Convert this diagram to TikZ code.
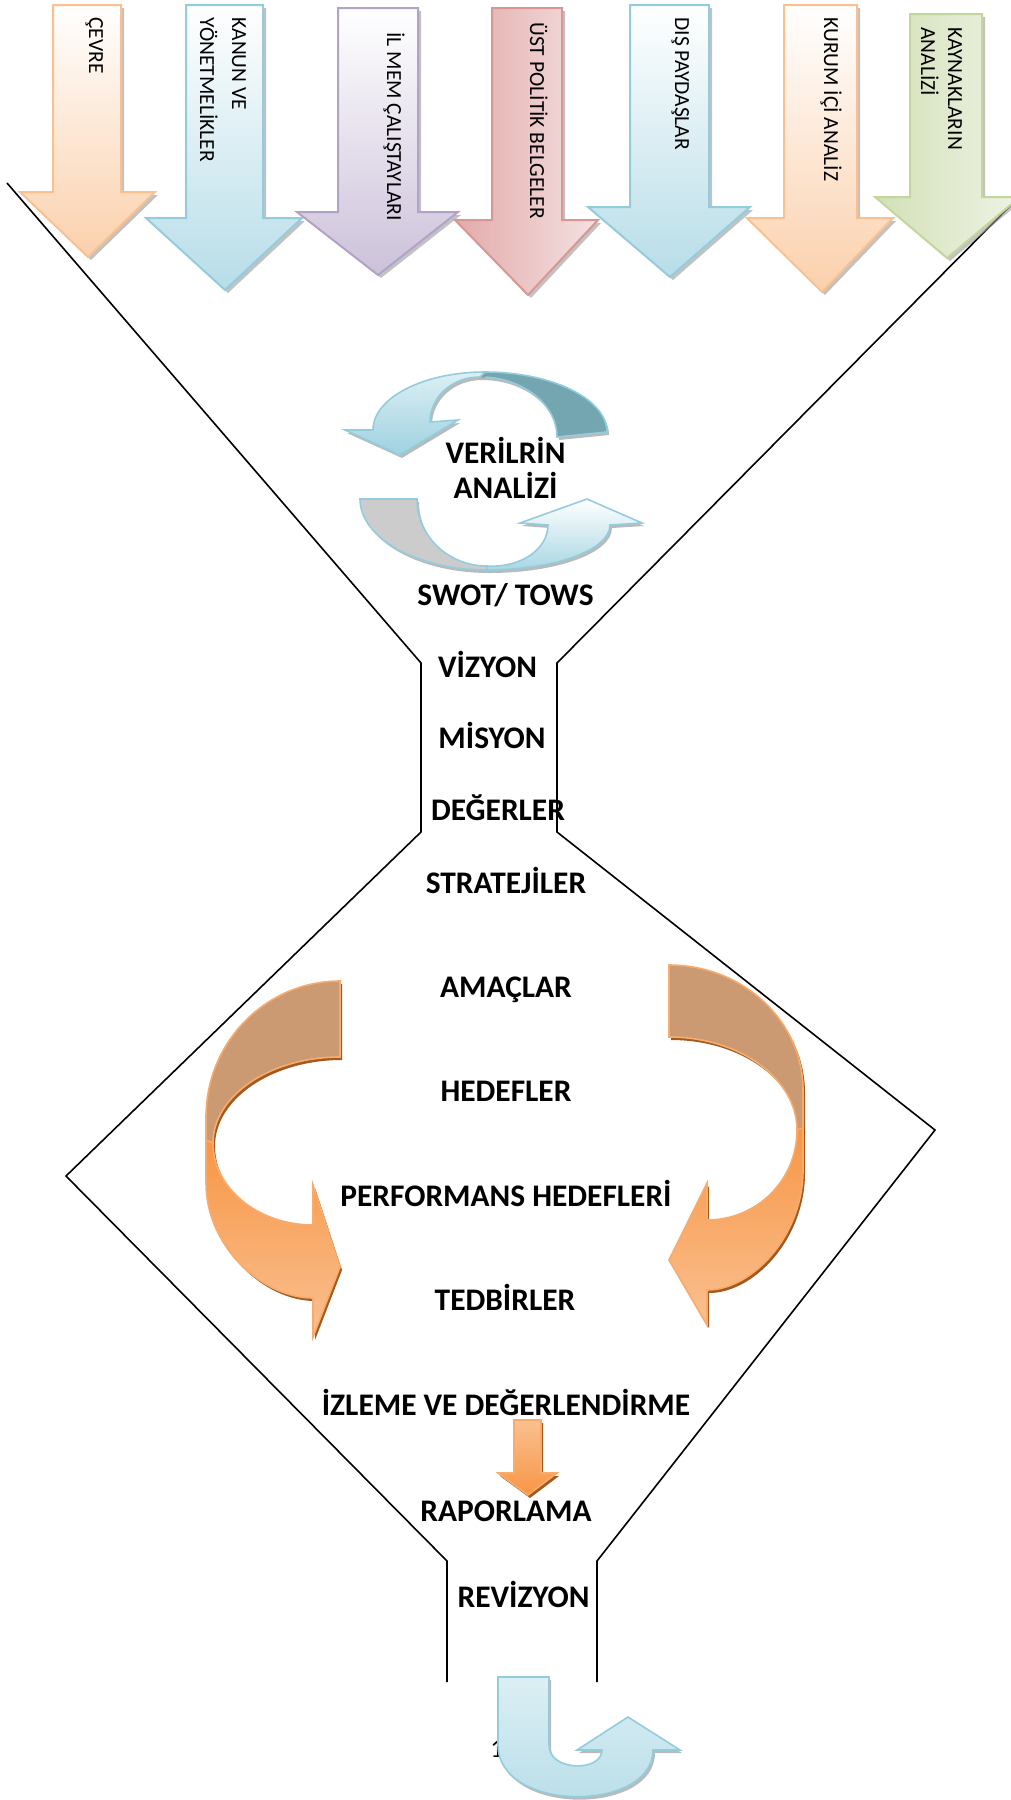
\documentclass[tikz,border=0pt]{standalone}
\usepackage{fontspec}
\setmainfont{Carlito}
\usetikzlibrary{shadows}
\definecolor{peach}{HTML}{FBD0AC}
\definecolor{peachline}{HTML}{FAC090}
\definecolor{sky}{HTML}{B7DDE8}
\definecolor{skyline}{HTML}{93CDDD}
\definecolor{lilac}{HTML}{CCC1DA}
\definecolor{lilacline}{HTML}{B3A2C7}
\definecolor{rose}{HTML}{E2ABAA}
\definecolor{roselight}{HTML}{F4E1E1}
\definecolor{roseline}{HTML}{D99694}
\definecolor{leaf}{HTML}{D3E0B8}
\definecolor{leaflight}{HTML}{EEF3E4}
\definecolor{leafline}{HTML}{C3D69B}
\definecolor{cyclelight}{HTML}{DCEFF4}
\definecolor{cycledark}{HTML}{74A6B2}
\definecolor{ribbonback}{HTML}{CB9A73}
\definecolor{ribbonfront}{HTML}{F79646}
\definecolor{ribbonpale}{HTML}{FAC090}
\definecolor{ribbonshadow}{HTML}{984807}
\tikzstyle{funnel}=[draw=black,line width=0.8pt]
\tikzstyle{inarrow}=[line width=1pt,line join=miter,drop shadow={shadow xshift=1.5pt,shadow yshift=-1.5pt,fill=black!40,opacity=.6}]
\tikzstyle{peacharrow}=[inarrow,top color=white,bottom color=peach,draw=peachline]
\tikzstyle{skyarrow}=[inarrow,top color=white,bottom color=sky,draw=skyline]
\tikzstyle{lilacarrow}=[inarrow,top color=white,bottom color=lilac,draw=lilacline]
\tikzstyle{rosearrow}=[inarrow,left color=rose,right color=roselight,draw=roseline]
\tikzstyle{leafarrow}=[inarrow,left color=leaf,right color=leaflight,draw=leafline]
\tikzstyle{cycle}=[line width=0.8pt,draw=skyline,drop shadow={shadow xshift=1pt,shadow yshift=-1.5pt,fill=black!45,opacity=.6}]
\tikzstyle{ribbon}=[line width=0.8pt,draw=ribbonfront!80!white,drop shadow={shadow xshift=1pt,shadow yshift=-1.5pt,fill=ribbonshadow,opacity=.9}]
\tikzstyle{arrowlabel}=[rotate=-90,anchor=base west,inner sep=0pt,font=\fontsize{10.75}{13}\selectfont]
\tikzstyle{stagelabel}=[anchor=base,inner sep=0pt,font=\fontsize{15.7}{18}\selectfont\bfseries]

\begin{document}
\begin{tikzpicture}[x=0.5pt,y=-0.5pt]
    \useasboundingbox (0,0) rectangle (1011,1800);
    % First we draw the funnel
    \draw[funnel] (7,183) -- (421,663) -- (421,832) -- (66,1176) -- (447,1561) -- (447,1682);
    \draw[funnel] (1013,203) -- (557,663) -- (557,832) -- (935,1130) -- (597,1561) -- (597,1682);
    % Input arrows at the top
    \foreach \sl/\sr/\st/\hy/\hl/\hr/\tx/\ty/\sty in {53/121/5/192/20/155/88/257/peacharrow,
            186/263/5/218/146/302/225/290/skyarrow, 338/418/8/212/297/458/378/275/lilacarrow,
            492/562/8/220/455/598/528/295/rosearrow, 630/709/5/207/588/750/670/277/skyarrow,
            784/857/5/218/747/893/822/292/peacharrow, 910/982/14/197/875/1020/947/258/leafarrow}
        \draw[\sty] (\sl,\st) -- (\sr,\st) -- (\sr,\hy) -- (\hr,\hy) -- (\tx,\ty) -- (\hl,\hy) -- (\sl,\hy) -- cycle;
    \foreach \pos/\name/\txt in {{(89,17)/cevre/ÇEVRE}, {(232,17)/kanun/KANUN VE},
            {(200,17)/yonetmelik/YÖNETMELİKLER}, {(387,32)/ilmem/İL MEM ÇALIŞTAYLARI},
            {(530,22)/ustpolitik/ÜST POLİTİK BELGELER}, {(675,17)/dispaydas/DIŞ PAYDAŞLAR},
            {(824,17)/kurumici/KURUM İÇİ ANALİZ}, {(948,27)/kaynak/KAYNAKLARIN},
            {(921,27)/kaynakanaliz/ANALİZİ}}
        \node[arrowlabel] (\name) at \pos {\txt};
    % Cycle arrows round the data analysis
    \draw[cycle,fill=cycledark] (485,372) .. controls (552,372) and (607,399) .. (607,432)
        -- (557,437) .. controls (557,404) and (522,377) .. (480,377) -- cycle;
    \draw[cycle,top color=cyclelight,bottom color=skyline!90] (373,430) .. controls (373,398) and (423,372) .. (485,372)
        -- (480,377) .. controls (452,377) and (430,397) .. (430,422) -- (458,420) -- (400,455) -- (345,430) -- cycle;
    \draw[cycle,fill=black!20] (360,499) -- (417,499) .. controls (417,536) and (448,566) .. (487,566)
        -- (487,570) .. controls (417,570) and (360,538) .. (360,499) -- cycle;
    \draw[cycle,top color=white,bottom color=skyline!80] (487,570) .. controls (555,570) and (610,550) .. (610,525)
        -- (642,523) -- (587,499) -- (520,523) -- (548,525) .. controls (548,549) and (521,568) .. (487,566) -- cycle;
    % Orange ribbons round the goals
    \draw[ribbon,fill=ribbonback] (340,981) .. controls (266,981) and (206,1042) .. (206,1117)
        -- (206,1143) -- (213,1143) .. controls (213,1096) and (270,1057) .. (340,1057) -- cycle;
    \draw[ribbon,top color=ribbonfront,bottom color=ribbonpale] (206,1140) -- (206,1183)
        .. controls (206,1246) and (262,1298) .. (313,1298) -- (313,1337) -- (340,1267) -- (313,1185)
        -- (313,1225) .. controls (258,1225) and (213,1188) .. (213,1143) -- cycle;
    \draw[ribbon,fill=ribbonback] (669,965) .. controls (743,965) and (803,1021) .. (803,1090)
        -- (803,1130) -- (797,1130) .. controls (797,1079) and (740,1037) .. (669,1037) -- cycle;
    \draw[ribbon,top color=ribbonfront,bottom color=ribbonpale] (803,1128) -- (803,1170)
        .. controls (803,1236) and (752,1290) .. (707,1290) -- (707,1325) -- (669,1260) -- (707,1183)
        -- (707,1220) .. controls (757,1220) and (797,1180) .. (797,1130) -- cycle;
    % Small arrow to the report
    \draw[ribbon,top color=ribbonpale,bottom color=ribbonfront] (514,1420) -- (541,1420) -- (541,1473)
        -- (557,1473) -- (528,1495) -- (498,1473) -- (514,1473) -- cycle;
    % Stages of the plan
    \foreach \pos/\name/\txt in {{(505.5,463)/verilerin/VERİLRİN}, {(505.5,498)/analizi/ANALİZİ},
            {(505.5,605)/swot/{SWOT/ TOWS}}, {(487.5,677)/vizyon/VİZYON}, {(492,748)/misyon/MİSYON},
            {(498,820)/degerler/DEĞERLER}, {(506,893)/stratejiler/STRATEJİLER},
            {(506,997)/amaclar/AMAÇLAR}, {(506,1101)/hedefler/HEDEFLER},
            {(506,1206)/performans/PERFORMANS HEDEFLERİ}, {(505,1310)/tedbirler/TEDBİRLER},
            {(506,1415)/izleme/İZLEME VE DEĞERLENDİRME}, {(506,1521)/raporlama/RAPORLAMA},
            {(523.5,1607)/revizyon/REVİZYON}}
        \node[stagelabel] (\name) at \pos {\txt};
    % Turn back arrow under the funnel
    \node[inner sep=0pt,font=\fontsize{13}{15}\selectfont] (pagenum) at (497,1749) {1};
    \draw[cycle,top color=cyclelight,bottom color=sky] (498,1677) -- (549,1677) -- (549,1745)
        .. controls (549,1772) and (602,1772) .. (602,1750) -- (577,1750) -- (628,1717) -- (680,1750)
        -- (653,1750) .. controls (653,1813) and (498,1813) .. (498,1745) -- cycle;
\end{tikzpicture}
\end{document}
